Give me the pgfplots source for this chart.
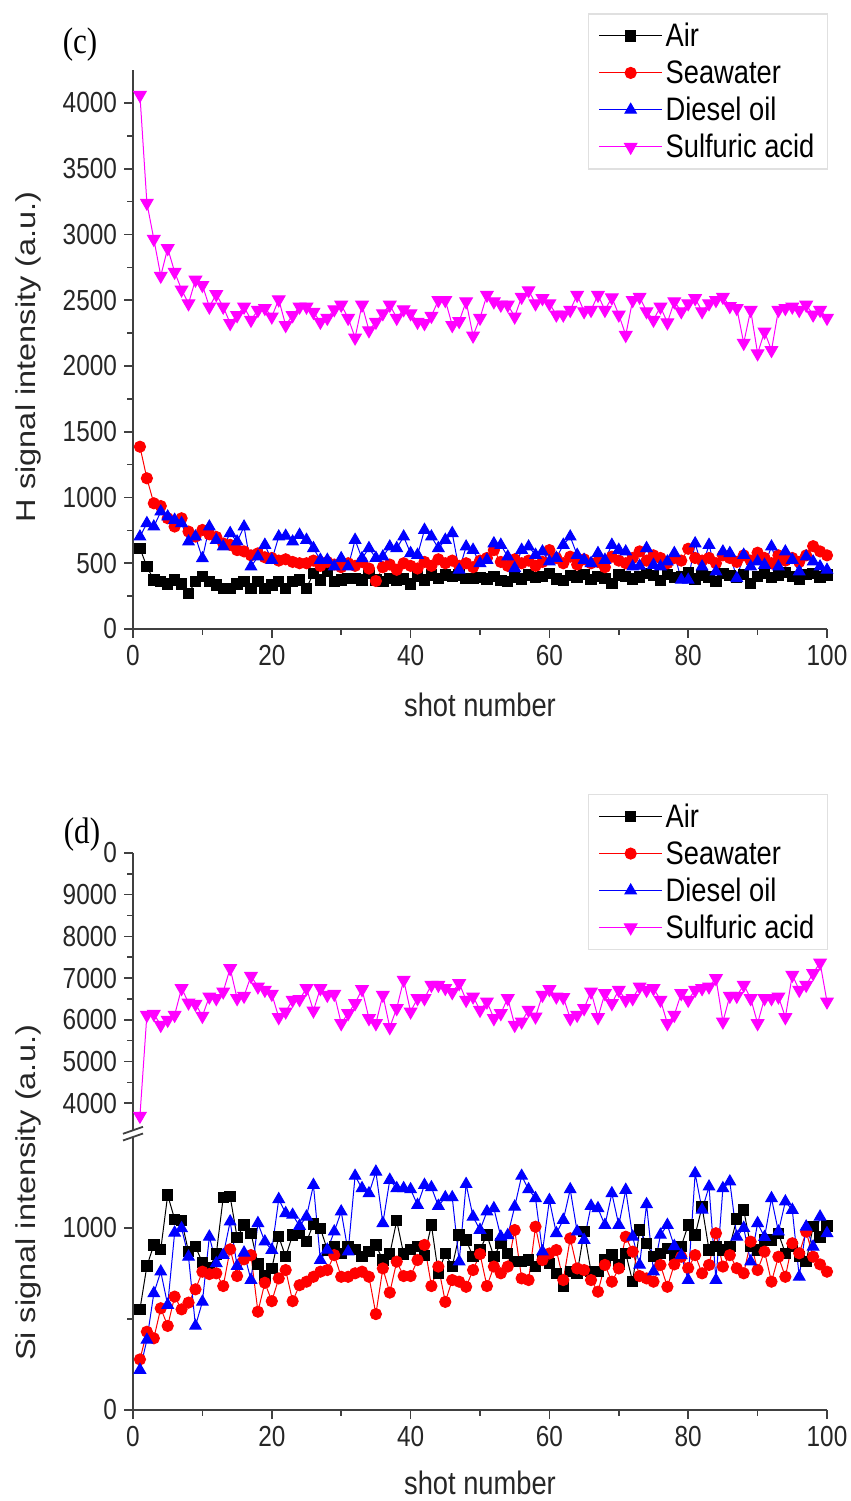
\documentclass[border=0pt]{standalone}
\usepackage{fontspec}
\setmainfont{Liberation Sans}[FakeStretch=0.84]
\newfontfamily\panelfont{Liberation Serif}[FakeStretch=0.84]
\newfontfamily\ylabfont{Liberation Sans}
\usepackage{graphicx}
\usepackage{pgfplots}
\usepackage{pgfplotstable}
\pgfplotsset{compat=1.18}

\definecolor{axgray}{HTML}{404040}
\definecolor{acid}{HTML}{FF00FF}
\newcommand\ticksize{\fontsize{14.5}{16}\selectfont}
\newcommand\labsize{\fontsize{16.25}{19}\selectfont}

% panel (c): H signal
\pgfplotstableread{
n air sea diesel acid
1 614 1386 702 4060
2 474 1146 804 3240
3 373 956 778 2965
4 361 935 892 2685
5 343 842 854 2895
6 373 779 829 2715
7 343 842 804 2580
8 271 741 664 2475
9 361 703 702 2655
10 399 753 537 2615
11 361 720 778 2450
12 336 700 677 2545
13 310 650 626 2450
14 310 640 728 2325
15 343 600 664 2385
16 361 590 778 2450
17 310 560 474 2350
18 361 575 550 2425
19 310 545 639 2440
20 336 540 525 2375
21 361 520 702 2505
22 310 530 708 2310
23 361 510 664 2385
24 373 500 715 2450
25 310 500 677 2450
26 424 520 614 2410
27 373 480 525 2335
28 437 510 525 2365
29 361 490 474 2430
30 373 470 537 2465
31 386 500 474 2365
32 386 480 677 2215
33 373 510 537 2465
34 420 460 614 2270
35 373 365 540 2335
36 361 470 550 2400
37 386 490 626 2465
38 373 450 614 2365
39 380 500 702 2430
40 343 480 576 2400
41 399 460 563 2335
42 373 510 753 2325
43 411 480 702 2380
44 386 530 614 2500
45 411 500 677 2500
46 399 520 728 2310
47 411 480 449 2340
48 386 500 626 2490
49 386 470 601 2230
50 390 520 500 2365
51 380 540 525 2540
52 400 600 650 2490
53 370 510 639 2465
54 360 480 550 2465
55 395 530 462 2375
56 380 500 601 2525
57 410 520 626 2575
58 390 480 563 2475
59 400 510 588 2515
60 420 600 512 2475
61 380 540 540 2390
62 370 500 639 2390
63 405 550 702 2425
64 395 490 563 2540
65 415 530 525 2415
66 375 500 500 2425
67 400 510 576 2540
68 385 470 525 2425
69 345 550 639 2520
70 410 520 601 2390
71 400 500 588 2235
72 380 540 474 2500
73 395 590 480 2525
74 420 520 614 2415
75 405 560 487 2350
76 370 540 474 2450
77 415 500 512 2330
78 390 540 576 2490
79 400 520 373 2415
80 425 610 373 2475
81 380 540 650 2515
82 410 520 474 2415
83 395 540 639 2475
84 360 500 436 2500
85 420 560 588 2525
86 405 540 576 2455
87 390 510 386 2440
88 415 560 563 2175
89 345 520 474 2425
90 400 580 512 2095
91 420 540 487 2260
92 390 500 626 2120
93 410 560 474 2425
94 430 520 588 2440
95 400 540 525 2450
96 375 510 436 2425
97 415 560 550 2465
98 420 630 512 2390
99 395 590 474 2425
100 410 560 449 2365
}\Hdata

% panel (d): Si signal
\pgfplotstableread{
n air sea diesel acid
1 553 278 220 3693
2 791 430 385 6115
3 907 394 641 6139
4 883 559 760 5875
5 1181 462 577 5995
6 1048 623 974 6115
7 1040 553 998 6755
8 870 590 842 6411
9 897 663 462 6379
10 811 760 594 6091
11 780 747 952 6555
12 857 751 806 6515
13 1168 681 851 6675
14 1172 883 1035 7235
15 949 736 791 6515
16 1016 828 864 6571
17 971 851 714 7050
18 802 540 1026 6795
19 736 699 925 6715
20 778 598 879 6619
21 952 723 1158 6059
22 842 769 1081 6195
23 962 598 1072 6475
24 971 686 1011 6491
25 925 705 1062 6755
26 1022 732 1236 6219
27 998 760 824 6755
28 880 769 880 6595
29 897 851 980 6619
30 860 732 1090 5915
31 900 732 870 6155
32 883 751 1286 6395
33 842 760 1218 6731
34 870 732 1190 6035
35 907 527 1309 5915
36 824 778 1026 6595
37 857 645 1264 5819
38 1040 815 1218 6275
39 857 736 1218 6955
40 883 736 1212 6195
41 900 824 1126 6515
42 850 907 1236 6515
43 1016 681 1223 6835
44 751 788 1121 6835
45 861 594 1168 6760
46 788 714 1168 6660
47 962 705 815 6875
48 934 677 1241 6475
49 842 769 1062 6555
50 880 857 989 6235
51 962 681 1090 6435
52 842 788 1108 6035
53 916 751 952 6155
54 860 788 960 6515
55 815 989 1117 5875
56 815 723 1286 5955
57 824 714 1212 6235
58 788 1007 1163 6075
59 830 824 870 6595
60 806 860 1153 6731
61 751 879 971 6555
62 677 714 1044 6539
63 760 943 1212 6035
64 751 778 980 6115
65 980 769 934 6275
66 760 714 1121 6675
67 760 650 1108 6059
68 824 797 1016 6635
69 851 705 1190 6395
70 800 778 1016 6715
71 860 952 1209 6475
72 705 870 952 6515
73 989 736 797 6795
74 916 723 1130 6715
75 842 705 760 6755
76 860 797 962 6475
77 888 677 1016 5915
78 850 800 900 6115
79 900 842 850 6635
80 1016 780 714 6475
81 962 851 1300 6715
82 1117 751 1100 6755
83 880 797 1227 6795
84 897 971 714 6995
85 879 788 1218 5955
86 900 851 1255 6571
87 1050 779 952 6571
88 1099 751 1000 6835
89 900 925 815 6515
90 880 769 1026 5915
91 934 870 950 6515
92 934 705 1163 6515
93 971 842 980 6555
94 861 732 1145 6059
95 900 916 1099 7075
96 842 861 732 6715
97 815 980 1007 6835
98 1007 842 897 7115
99 950 800 1062 7370
100 1010 760 971 6435
}\Sidata

\pgfplotsset{
  panel/.style={
    scale only axis, width=347pt, anchor=south west,
    xmin=0, xmax=100,
    axis line style={-, axgray, line width=1pt},
    tick style={axgray, line width=0.8pt},
    tick align=outside,
    major tick length=4.5pt, minor tick length=2.8pt,
    tick label style={font=\ticksize, black!85},
    /pgf/number format/assume math mode=true,
    /pgf/number format/1000 sep={},
    scaled ticks=false,
    xtick={0,20,...,100}, minor x tick num=1,
    legend cell align=left,
    legend image code/.code={\draw[mark repeat=2,mark phase=2]
      plot coordinates {(0pt,0pt) (15.75pt,0pt) (31.5pt,0pt)};},
    legend style={anchor=north east, draw=black!12, line width=0.6pt,
      font=\labsize, inner xsep=5pt, inner ysep=3pt, row sep=2.5pt,
      nodes={inner sep=1.5pt, text height=12pt, text depth=1pt}},
    label style={font=\labsize, black!85},
  },
  airs/.style={black, line width=0.5pt, mark=square*, mark size=2.6pt, mark options={solid}},
  seas/.style={red, line width=0.5pt, mark=*, mark size=2.8pt, mark options={solid}},
  diesels/.style={blue, line width=0.5pt, mark=triangle*, mark size=3.3pt, mark options={solid}},
  acids/.style={acid, line width=0.5pt, mark=triangle*, mark size=3.6pt, mark options={solid, rotate=180}},
}

\begin{document}
\begin{tikzpicture}
\useasboundingbox (0,0) rectangle (425.5pt,750.5pt);

% (c)
\begin{axis}[panel, at={(66.5pt,436pt)}, height=279.45pt,
    axis lines*=left, ymin=0, ymax=4250,
    ytick={0,500,...,4000}, minor y tick num=1,
    xlabel={shot number},
    xlabel style={at={(axis description cs:0.5,-0.136)}, anchor=center},
    ylabel={\ylabfont\scalebox{1}[0.84]{H signal intensity (a.u.)}},
    ylabel style={at={(axis description cs:-0.151,0.487)}, anchor=center},
    legend style={at={(axis description cs:1.0014,1.1016)}}]
  \addplot[airs] table[x=n,y=air] {\Hdata};
  \addlegendentry{Air}
  \addplot[seas] table[x=n,y=sea] {\Hdata};
  \addlegendentry{Seawater}
  \addplot[diesels] table[x=n,y=diesel] {\Hdata};
  \addlegendentry{Diesel oil}
  \addplot[acids] table[x=n,y=acid] {\Hdata};
  \addlegendentry{Sulfuric acid}
\end{axis}

% (d) lower part
\begin{axis}[panel, at={(66.5pt,45.5pt)}, height=136.5pt,
    axis lines*=left, ymin=0, ymax=1500,
    ytick={0,1000}, minor ytick={500},
    xlabel={shot number},
    xlabel style={at={(axis description cs:0.5,-0.266)}, anchor=center}]
  \addplot[airs] table[x=n,y=air] {\Sidata};
  \addplot[seas] table[x=n,y=sea] {\Sidata};
  \addplot[diesels] table[x=n,y=diesel] {\Sidata};
\end{axis}

% (d) upper part
\begin{axis}[panel, at={(66.5pt,185.35pt)}, height=138.65pt,
    axis x line=none, axis y line*=left, ymin=3350, ymax=10000,
    ytick={4000,5000,...,10000}, minor y tick num=1,
    legend style={at={(axis description cs:1.0014,1.2128)}}]
  \addlegendimage{airs}
  \addlegendentry{Air}
  \addlegendimage{seas}
  \addlegendentry{Seawater}
  \addlegendimage{diesels}
  \addlegendentry{Diesel oil}
  \addplot[acids] table[x=n,y=acid] {\Sidata};
  \addlegendentry{Sulfuric acid}
\end{axis}

% axis break marks
\draw[axgray, line width=0.9pt] (61.5pt,183.6pt) -- (71.5pt,187.1pt);
\draw[axgray, line width=0.9pt] (61.5pt,180.25pt) -- (71.5pt,183.75pt);

\node[rotate=90, font=\labsize, black!85] at (14pt,154pt)
  {\ylabfont\scalebox{1}[0.84]{Si signal intensity (a.u.)}};

\node[font=\panelfont\fontsize{18.5}{20}\selectfont] at (40pt,728pt) {(c)};
% the (d) tag sits on a white patch that hides most of the top tick label
\fill[white] (20pt,317.5pt) rectangle (52pt,349pt);
\node[font=\panelfont\fontsize{18.5}{20}\selectfont] at (41pt,333pt) {(d)};
\end{tikzpicture}
\end{document}
